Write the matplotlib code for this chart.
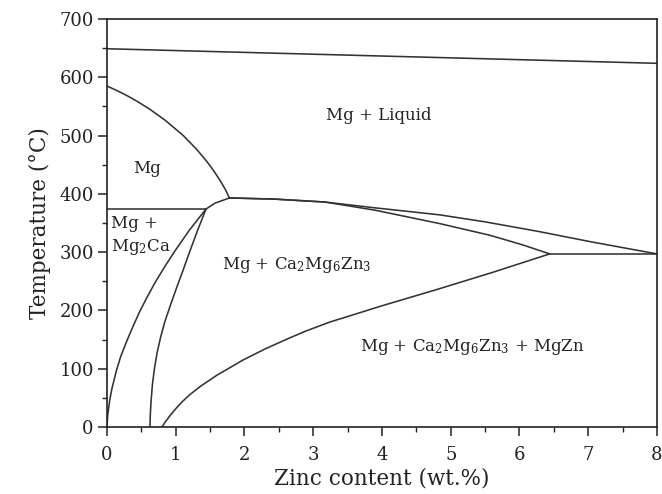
import matplotlib
matplotlib.use("Agg")
import matplotlib.pyplot as plt
from matplotlib.ticker import MultipleLocator

plt.rcParams["font.family"] = "DejaVu Serif"
plt.rcParams["mathtext.fontset"] = "dejavuserif"

# Phase boundaries of the Mg-Ca-Zn section (Zn wt.%, temperature in degC)
liquidus_zn = [0, 8]
liquidus_t = [649, 624]

mg_solvus_zn = [0, 0.15, 0.3, 0.45, 0.625, 0.85, 1.11, 1.3, 1.45, 1.55, 1.64, 1.72, 1.78]
mg_solvus_t = [585, 577, 568, 558, 545, 526, 500, 477, 456, 440, 424, 408, 393]

mg2ca_top_zn = [0, 1.44]
mg2ca_top_t = [374, 374]

junction_zn = [1.44, 1.57, 1.78]
junction_t = [374, 384, 393]

upper_zn = [1.78, 2.44, 3.17, 3.9, 4.84, 5.5, 6.3, 7.03, 8.0]
upper_t = [393, 391, 386, 376, 364, 352, 335, 318, 297]

lower_zn = [1.78, 2.44, 3.17, 3.9, 4.84, 5.57, 6.06, 6.44]
lower_t = [393, 391, 386, 372, 349, 329, 312, 297]

eutectic_zn = [6.44, 8.0]
eutectic_t = [297, 297]

mgzn_zn = [0.8, 0.85, 0.92, 1.02, 1.1, 1.2, 1.35, 1.6, 1.98, 2.3, 2.66, 2.9,
           3.24, 4.0, 4.8, 5.6, 6.44]
mgzn_t = [0, 9, 20, 34, 44, 55, 69, 89, 115, 134, 153, 165,
          180, 208, 236, 265, 297]

mg2ca_left_zn = [0, 0.01, 0.04, 0.07, 0.14, 0.2, 0.29, 0.38, 0.48, 0.58, 0.70,
                 0.85, 1.0, 1.2, 1.44]
mg2ca_left_t = [0, 20, 46, 65, 98, 121, 148, 173, 199, 222, 248,
                277, 304, 338, 374]

mg2ca_right_zn = [0.625, 0.63, 0.64, 0.66, 0.69, 0.73, 0.78, 0.84, 0.92, 1.01,
                  1.11, 1.21, 1.32, 1.44]
mg2ca_right_t = [0, 20, 42, 72, 100, 128, 154, 180, 208, 238,
                 270, 303, 338, 374]

boundaries = [
    (liquidus_zn, liquidus_t),
    (mg_solvus_zn, mg_solvus_t),
    (mg2ca_top_zn, mg2ca_top_t),
    (junction_zn, junction_t),
    (upper_zn, upper_t),
    (lower_zn, lower_t),
    (eutectic_zn, eutectic_t),
    (mgzn_zn, mgzn_t),
    (mg2ca_left_zn, mg2ca_left_t),
    (mg2ca_right_zn, mg2ca_right_t),
]

fig = plt.figure(figsize=(6.62, 4.94), dpi=100)
ax = fig.add_axes([0.1616, 0.1356, 0.8308, 0.8259])

line_color = "#333333"
for zn, t in boundaries:
    ax.plot(zn, t, color=line_color, lw=1.15, solid_joinstyle="round")

ax.set_xlim(0, 8)
ax.set_ylim(0, 700)
ax.xaxis.set_major_locator(MultipleLocator(1))
ax.xaxis.set_minor_locator(MultipleLocator(0.5))
ax.yaxis.set_major_locator(MultipleLocator(100))
ax.yaxis.set_minor_locator(MultipleLocator(50))
ax.tick_params(which="major", direction="out", length=6.5, width=1.1,
               labelsize=13, colors="#222222")
ax.tick_params(which="minor", direction="out", length=3.5, width=1.0,
               colors="#222222")
ax.tick_params(axis="x", pad=7)
ax.tick_params(axis="y", pad=3)
for s in ax.spines.values():
    s.set_linewidth(1.2)
    s.set_color("#222222")

ax.set_xlabel("Zinc content (wt.%)", fontsize=15.5, color="#222222", labelpad=3)
ax.set_ylabel("Temperature (°C)", fontsize=15.5, color="#222222", labelpad=6)

txt = dict(fontsize=12, color="#222222")
ax.text(3.95, 535, "Mg + Liquid", ha="center", va="center", **txt)
ax.text(0.58, 444, "Mg", ha="center", va="center", **txt)
ax.text(0.06, 350, "Mg +", ha="left", va="center", **txt)
ax.text(0.06, 308, r"Mg$_2$Ca", ha="left", va="center", **txt)
ax.text(2.76, 278, r"Mg + Ca$_2$Mg$_6$Zn$_3$", ha="center", va="center", **txt)
ax.text(5.32, 137, r"Mg + Ca$_2$Mg$_6$Zn$_3$ + MgZn", ha="center", va="center", **txt)

fig.savefig("out.png", dpi=100)
